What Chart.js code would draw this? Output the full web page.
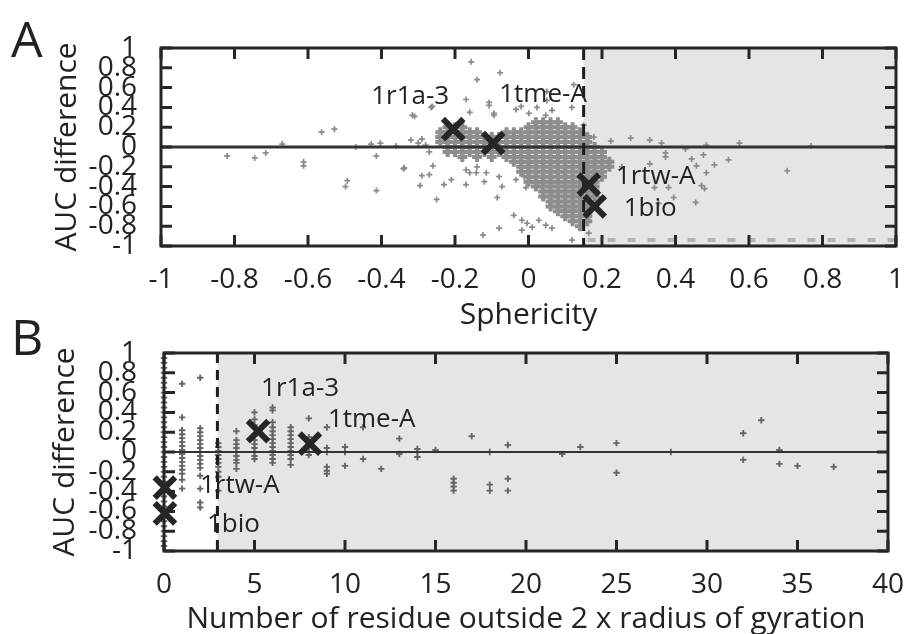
<!DOCTYPE html>
<html><head><meta charset="utf-8">
<script src="https://cdn.jsdelivr.net/npm/chart.js@4.4.1/dist/chart.umd.min.js"></script>
<style>
html,body{margin:0;padding:0;background:#fff;width:921px;height:634px;overflow:hidden}
#wrap{position:relative;width:921px;height:634px}
canvas{position:absolute;left:0;top:0}
</style></head>
<body><div id="wrap"><canvas id="ca" width="921" height="634"></canvas><canvas id="cb" width="921" height="634"></canvas></div>
<script>
// ---------- DATA ----------
const sphericityTicks = [-1,-0.8,-0.6,-0.4,-0.2,0,0.2,0.4,0.6,0.8,1];
const aucTicks = [-1,-0.8,-0.6,-0.4,-0.2,0,0.2,0.4,0.6,0.8,1];
const residueTicks = [0,5,10,15,20,25,30,35,40];

const markerNames = ['1r1a-3','1tme-A','1rtw-A','1bio'];
const sphericityMarkers = [[-0.205,0.18],[-0.096,0.04],[0.164,-0.38],[0.18,-0.60]];
const residueMarkers = [[5.2,0.21],[8.06,0.085],[0.05,-0.36],[0.05,-0.62]];

// dense cloud of panel A, read row by row (AUC difference level -> sphericity values)
const cloudRowsY = [0.25,0.20,0.15,0.10,0.05,0.00,-0.05,-0.10,-0.15,-0.20,-0.25,-0.30,-0.35,-0.40,-0.45,-0.50,-0.55,-0.60,-0.65,-0.70,-0.75,-0.80];
const cloudRowsX = [
 [0.02,0.04,0.06,0.08],
 [-0.22,-0.20,-0.18,0.00,0.02,0.04,0.06,0.08,0.10,0.12],
 [-0.24,-0.22,-0.20,-0.18,-0.16,-0.14,-0.06,-0.04,-0.02,0.00,0.02,0.04,0.06,0.08,0.10,0.12,0.14],
 [-0.24,-0.22,-0.20,-0.18,-0.16,-0.14,-0.12,-0.10,-0.08,-0.06,-0.04,-0.02,0.00,0.02,0.04,0.06,0.08,0.10,0.12,0.14,0.16],
 [-0.24,-0.22,-0.20,-0.18,-0.16,-0.14,-0.12,-0.10,-0.08,-0.06,-0.04,-0.02,0.00,0.02,0.04,0.06,0.08,0.10,0.12,0.14,0.16],
 [-0.22,-0.20,-0.18,-0.16,-0.14,-0.12,-0.10,-0.08,-0.06,-0.04,-0.02,0.00,0.02,0.04,0.06,0.08,0.10,0.12,0.14,0.16,0.18],
 [-0.22,-0.20,-0.18,-0.16,-0.14,-0.12,-0.10,-0.08,-0.06,-0.04,-0.02,0.00,0.02,0.04,0.06,0.08,0.10,0.12,0.14,0.16,0.18,0.20],
 [-0.18,-0.14,-0.10,-0.06,-0.04,-0.02,0.00,0.02,0.04,0.06,0.08,0.10,0.12,0.14,0.16,0.18,0.20],
 [-0.04,-0.02,0.00,0.02,0.04,0.06,0.08,0.10,0.12,0.14,0.16,0.18,0.20,0.22],
 [-0.02,0.00,0.02,0.04,0.06,0.08,0.10,0.12,0.14,0.16,0.18,0.20,0.22],
 [-0.02,0.00,0.02,0.04,0.06,0.08,0.10,0.12,0.14,0.16,0.18,0.20],
 [0.00,0.02,0.04,0.06,0.08,0.10,0.12,0.14,0.16,0.18,0.20],
 [0.00,0.02,0.04,0.06,0.08,0.10,0.12,0.14,0.16,0.18],
 [0.02,0.04,0.06,0.08,0.10,0.12,0.14,0.16,0.18],
 [0.04,0.06,0.08,0.10,0.12,0.14,0.16,0.18],
 [0.04,0.06,0.08,0.10,0.12,0.14,0.16,0.18],
 [0.06,0.08,0.10,0.12,0.14,0.16],
 [0.06,0.08,0.10,0.12,0.14,0.16],
 [0.08,0.10,0.12,0.14,0.16],
 [0.10,0.12,0.14,0.16],
 [0.12,0.14,0.16],
 [0.14]
];

// isolated points of panel A  [sphericity, AUC difference]
const sphericitySparse = [
 [-0.82,-0.09],[-0.745,-0.11],[-0.715,-0.06],[-0.67,0.03],[-0.612,-0.15],[-0.612,-0.19],[-0.563,0.15],[-0.528,0.18],
 [-0.498,-0.40],[-0.493,-0.34],[-0.47,0.0],[-0.428,0.03],[-0.403,0.04],[-0.414,-0.09],[-0.414,-0.44],[-0.36,0.01],
 [-0.34,-0.22],[-0.32,0.07],[-0.31,0.31],[-0.30,0.04],[-0.295,-0.39],[-0.29,-0.29],[-0.27,-0.28],[-0.262,0.41],
 [-0.26,-0.19],[-0.25,-0.53],[-0.316,0.32],[-0.265,0.40],[-0.338,-0.21],[-0.28,0.02],[-0.27,-0.05],[-0.29,0.08],
 [-0.23,-0.38],[-0.21,-0.33],[-0.17,-0.23],[-0.14,-0.20],[-0.115,-0.26],[-0.08,-0.30],[-0.072,-0.40],[-0.034,-0.33],
 [-0.156,0.86],[-0.077,0.75],[-0.14,0.68],[-0.17,0.48],[-0.107,0.45],[-0.107,0.42],[-0.16,0.35],[-0.094,0.32],
 [-0.094,0.34],[-0.02,0.41],[0.05,0.47],[0.118,0.40],[0.123,0.63],[0.05,0.56],[-0.034,0.38],[0.001,0.34],
 [0.023,0.40],[0.047,0.32],[0.064,0.37],
 [-0.12,-0.35],[-0.085,-0.51],[-0.08,-0.82],[-0.124,-0.89],[-0.04,-0.69],[-0.018,-0.74],[-0.004,-0.77],[0.028,-0.74],
 [0.047,-0.79],[-0.018,-0.84],[0.01,-0.81],[0.064,-0.82],[0.118,-0.94],[-0.16,-0.26],[-0.17,-0.38],[-0.142,-0.26],
 [-0.007,-0.41],[-0.012,-0.30],
 [0.15,0.22],[0.178,0.10],[0.224,0.06],[0.278,0.09],[0.33,0.07],[0.362,0.04],[0.373,-0.06],[0.373,-0.10],
 [0.427,-0.02],[0.444,-0.12],[0.457,-0.19],[0.476,-0.08],[0.484,0.02],[0.484,-0.26],[0.506,-0.18],[0.544,-0.13],
 [0.574,0.04],[0.704,-0.24],[0.33,-0.17],[0.343,-0.41],[0.381,-0.41],[0.395,-0.51],[0.455,-0.56],[0.471,-0.39],
 [0.479,-0.42],[0.254,-0.20],[0.354,-0.57],[0.164,-0.87],[0.769,0.01]
];

// panel B: number of residues (columns) and the AUC differences found at each
const residueCounts = [0,1,2,3,4,5,6,7,8,9,10,11,12,13,14,15,16,17,18,19,22,23,25,28,32,33,34,35,37];
const residueAuc = [
 [0.95,0.9,0.85,0.8,0.75,0.7,0.65,0.6,0.55,0.5,0.45,0.4,0.35,0.3,0.25,0.2,0.15,0.1,0.05,0,-0.05,-0.1,-0.15,-0.2,-0.25,-0.3,-0.35,-0.4,-0.45,-0.5,-0.55,-0.6,-0.65,-0.7,-0.75,-0.8,-0.85,-0.9,-0.95],
 [0.69,0.35,0.22,0.18,0.14,0.10,0.06,0.02,-0.02,-0.06,-0.10,-0.14,-0.18,-0.22,-0.28,-0.37],
 [0.75,0.24,0.20,0.16,0.12,0.08,0.04,0.0,-0.04,-0.08,-0.12,-0.16,-0.24,-0.37,-0.51,-0.56],
 [0.09,0.05,0.01,-0.03,-0.07,-0.11,-0.15,-0.20,-0.25,-0.39],
 [0.21,0.12,0.08,0.04,0.0,-0.04,-0.08,-0.11,-0.17],
 [0.40,0.33,0.27,0.16,0.12,0.08,0.04,0.0,-0.04,-0.07],
 [0.45,0.42,0.30,0.25,0.21,0.17,0.13,0.09,0.05,0.01,-0.03,-0.07,-0.11],
 [0.25,0.21,0.17,0.13,0.09,0.05,0.01,-0.03,-0.07,-0.13],
 [0.34,0.15,0.10,0.05,0.0,-0.03],
 [0.25,0.04,0.0,-0.15,-0.19,-0.22],
 [0.05,0.0,-0.14],
 [0.25,-0.07],
 [-0.17],
 [0.135,-0.02],
 [0.03,0.0,-0.05],
 [0.02],
 [-0.27,-0.31,-0.35,-0.39],
 [0.16],
 [0.0,-0.33,-0.39],
 [0.07,-0.27,-0.39],
 [-0.02],
 [0.05],
 [0.09,-0.21],
 [0.0],
 [0.19,-0.08],
 [0.32],
 [0.02,-0.12],
 [-0.14],
 [-0.15]
];

// ---------- BUILD ----------
Chart.defaults.font.family = "'Open Sans', 'DejaVu Sans', sans-serif";
Chart.defaults.color = '#222';

const cloudPts = [];
cloudRowsY.forEach((yv,i) => cloudRowsX[i].forEach(xv => cloudPts.push({x:xv,y:yv})));
const sparsePts = sphericitySparse.map(p => ({x:p[0],y:p[1]}));
const resPts = [];
residueCounts.forEach((c,i) => residueAuc[i].forEach(v => resPts.push({x:c,y:v})));

function panelPlugin(cfg){
  return {
    id: 'panel' + cfg.letter,
    beforeDatasetsDraw(chart){
      const {ctx, chartArea:a, scales:{x,y}} = chart;
      ctx.save();
      const sx = x.getPixelForValue(cfg.shadeFrom);
      ctx.fillStyle = '#e5e5e5';
      ctx.fillRect(sx, a.top, a.right - sx, a.bottom - a.top);
      if (cfg.bottomDash) {
        ctx.strokeStyle = '#b5b5b5'; ctx.lineWidth = 4; ctx.setLineDash([8,12]);
        ctx.beginPath(); ctx.moveTo(sx + 4, a.bottom - 6); ctx.lineTo(a.right, a.bottom - 6); ctx.stroke();
      }
      ctx.restore();
    },
    afterDatasetDraw(chart, args){
      if (args.index !== 1) return;
      const {ctx, chartArea:a, scales:{x,y}} = chart;
      ctx.save();
      const y0 = y.getPixelForValue(0);
      ctx.strokeStyle = '#333'; ctx.lineWidth = cfg.zeroWidth;
      ctx.beginPath(); ctx.moveTo(a.left, y0); ctx.lineTo(a.right, y0); ctx.stroke();
      const dx = x.getPixelForValue(cfg.shadeFrom);
      ctx.strokeStyle = '#1e1e1e'; ctx.lineWidth = 3; ctx.setLineDash(cfg.dash);
      ctx.beginPath(); ctx.moveTo(dx, a.top); ctx.lineTo(dx, a.bottom); ctx.stroke();
      ctx.restore();
    },
    afterDraw(chart){
      const {ctx, chartArea:a, scales:{x,y}} = chart;
      ctx.save();
      ctx.strokeStyle = '#262626'; ctx.lineWidth = 3;
      const tl = 11;
      ctx.beginPath();
      x.ticks.forEach(t => {
        const px = x.getPixelForValue(t.value);
        ctx.moveTo(px, a.top); ctx.lineTo(px, a.top + tl);
        ctx.moveTo(px, a.bottom); ctx.lineTo(px, a.bottom - tl);
      });
      y.ticks.forEach(t => {
        const py = y.getPixelForValue(t.value);
        ctx.moveTo(a.left, py); ctx.lineTo(a.left + tl, py);
        ctx.moveTo(a.right, py); ctx.lineTo(a.right - tl, py);
      });
      ctx.stroke();
      ctx.strokeRect(a.left, a.top, a.right - a.left, a.bottom - a.top);
      // marker labels
      ctx.fillStyle = '#222';
      ctx.font = "26px 'Open Sans'";
      ctx.textAlign = 'left'; ctx.textBaseline = 'middle';
      const meta = chart.getDatasetMeta(0);
      meta.data.forEach((el, i) => {
        const off = cfg.labelOffsets[i];
        ctx.fillText(markerNames[i], el.x + off[0], el.y + off[1]);
      });
      // panel letter
      ctx.font = "50px 'Open Sans'";
      ctx.textBaseline = 'alphabetic';
      ctx.fillText(cfg.letter, cfg.letterPos[0], cfg.letterPos[1]);
      ctx.restore();
    }
  };
}

function makeChart(id, o){
  return new Chart(document.getElementById(id), {
    type: 'scatter',
    data: { datasets: o.datasets },
    options: {
      responsive: false, animation: false, devicePixelRatio: 1, events: [],
      layout: { padding: o.padding },
      plugins: { legend: {display:false}, tooltip: {enabled:false} },
      scales: {
        x: {
          type: 'linear', min: o.xTicks[0], max: o.xTicks[o.xTicks.length-1],
          afterBuildTicks: s => { s.ticks = o.xTicks.map(v => ({value:v})); },
          afterFit: s => { s.height = o.xAxisH; },
          grid: {display:false, drawTicks:false}, border: {display:false},
          ticks: { autoSkip:false, maxRotation:0, padding:17, color:'#222', font:{size:28}, callback: v => String(v) },
          title: { display:true, text:o.xTitle, color:'#222', font:{size:30, lineHeight:1}, padding:{top:0,bottom:0} }
        },
        y: {
          type: 'linear', min: -1, max: 1,
          afterBuildTicks: s => { s.ticks = aucTicks.map(v => ({value:v})); },
          afterFit: s => { s.width = o.yAxisW; },
          grid: {display:false, drawTicks:false}, border: {display:false},
          ticks: { autoSkip:false, padding:o.yPad, color:'#222', font:{size:28, lineHeight:1}, callback: v => String(v) },
          title: { display:true, text:'AUC difference', color:'#222', font:{size:30, lineHeight:1}, padding:{top:o.yTitlePad,bottom:0} }
        }
      }
    },
    plugins: [panelPlugin(o.plugin)]
  });
}

makeChart('ca', {
  datasets: [
    { data: sphericityMarkers.map(p => ({x:p[0],y:p[1]})), pointStyle:'crossRot', pointRadius:14.5, borderWidth:6, borderColor:'#262626', showLine:false, clip:false },
    { data: sparsePts, pointStyle:'cross', pointRadius:3, borderWidth:1.7, borderColor:'#8a8a8a', showLine:false, clip:false },
    { data: cloudPts, pointStyle:'cross', pointRadius:5, borderWidth:4, borderColor:'#8e8e8e', showLine:false, clip:false }
  ],
  padding: {left:0, top:48, right:24, bottom:304},
  xTicks: sphericityTicks, xTitle: 'Sphericity', xAxisH: 84, yAxisW: 161, yPad: 24, yTitlePad: 52,
  plugin: { letter:'A', letterPos:[11,57], shadeFrom:0.15, bottomDash:true, zeroWidth:3, dash:[12,7],
            labelOffsets: [[-82,-33],[6,-48],[27,-8],[29,2]] }
});

makeChart('cb', {
  datasets: [
    { data: residueMarkers.map(p => ({x:p[0],y:p[1]})), pointStyle:'crossRot', pointRadius:14.5, borderWidth:6, borderColor:'#262626', showLine:false, clip:false },
    { data: resPts, pointStyle:'cross', pointRadius:3.2, borderWidth:1.9, borderColor:'#666', showLine:false, clip:false }
  ],
  padding: {left:0, top:353, right:21, bottom:0},
  xTicks: residueTicks, xTitle: 'Number of residue outside 2 x radius of gyration', xAxisH: 83, yAxisW: 164, yPad: 27, yTitlePad: 50,
  plugin: { letter:'B', letterPos:[11,355], shadeFrom:2.95, bottomDash:false, zeroWidth:2, dash:[10,7],
            labelOffsets: [[3,-43],[18,-24],[35,-2],[42,11]] }
});
</script></body></html>
